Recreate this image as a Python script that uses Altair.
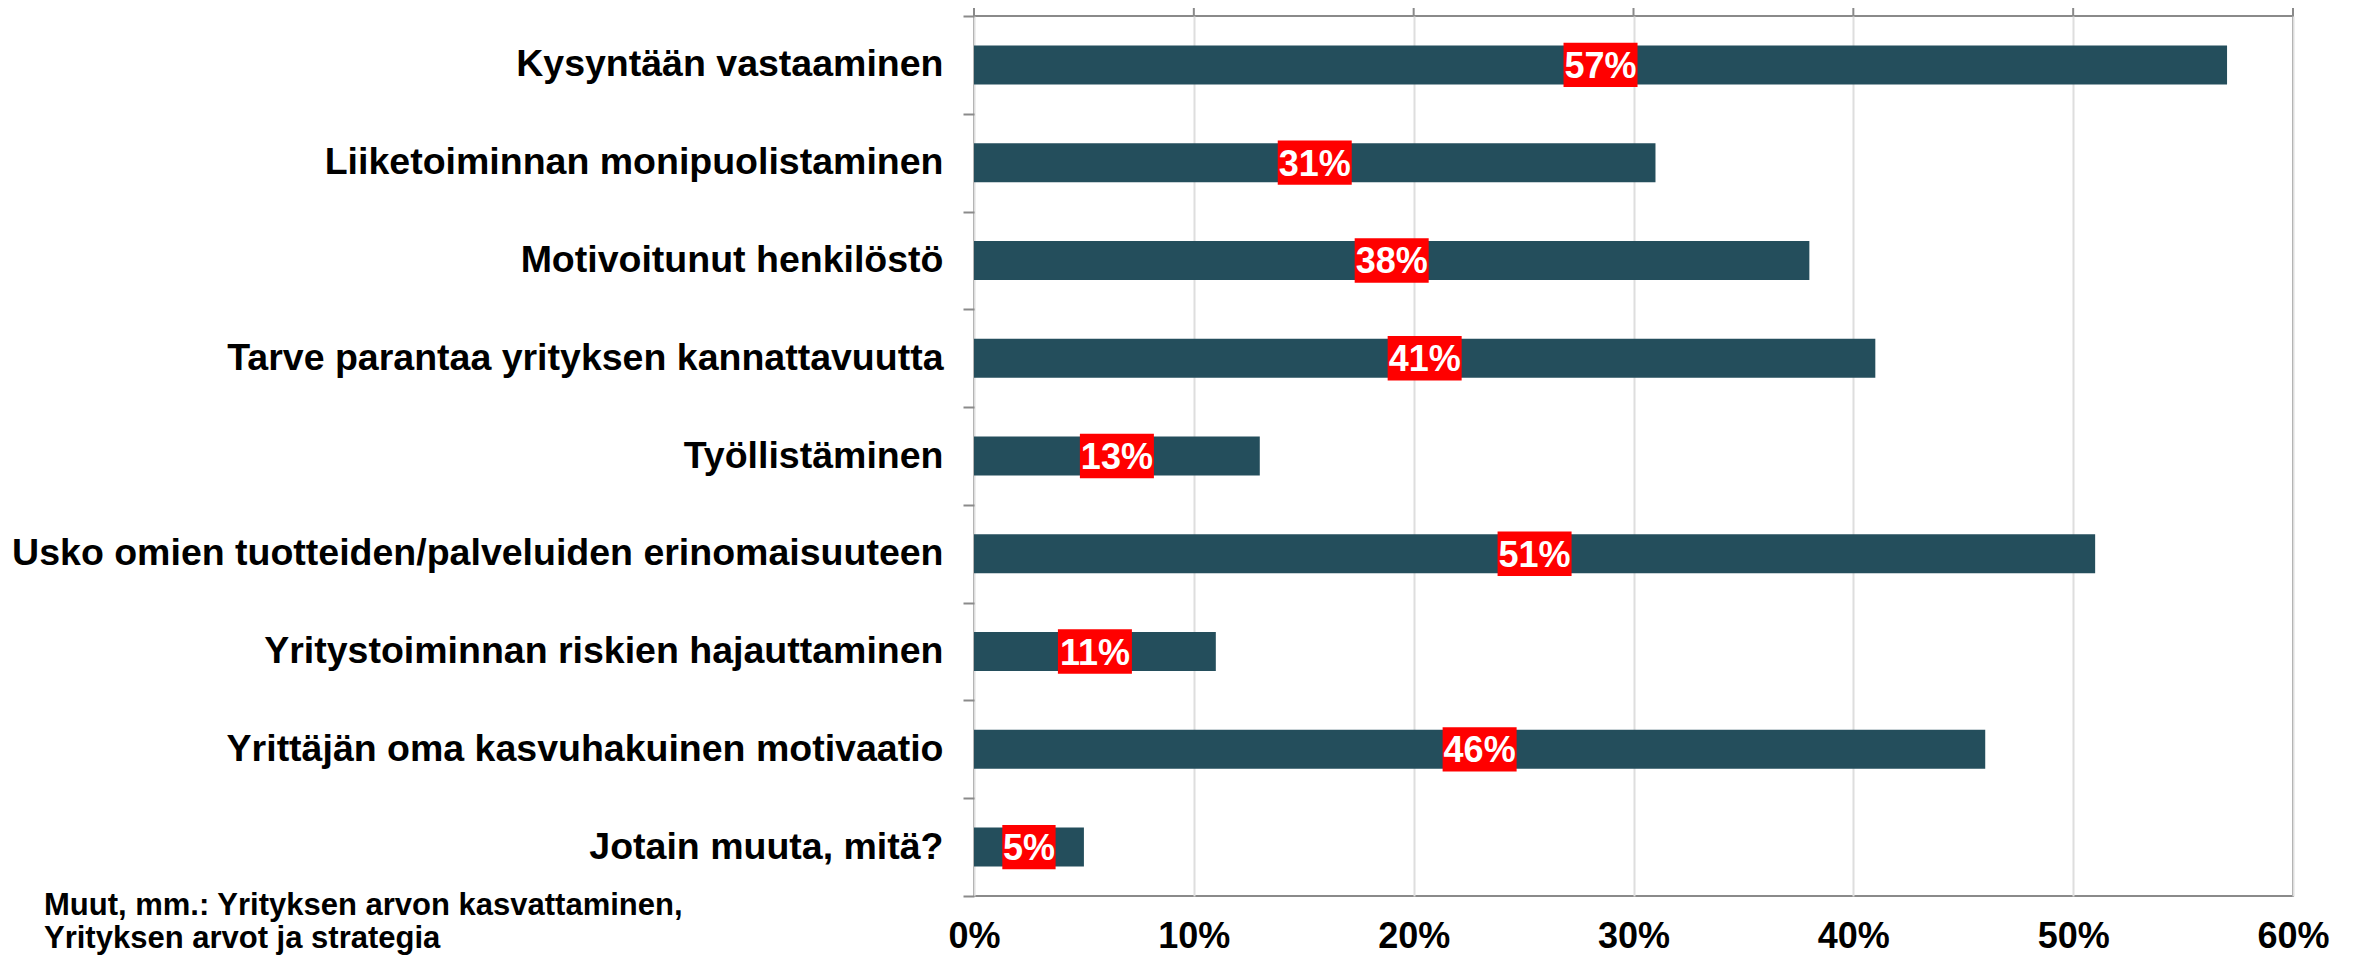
import altair as alt
import pandas as pd

categories = [
    "Kysyntään vastaaminen",
    "Liiketoiminnan monipuolistaminen",
    "Motivoitunut henkilöstö",
    "Tarve parantaa yrityksen kannattavuutta",
    "Työllistäminen",
    "Usko omien tuotteiden/palveluiden erinomaisuuteen",
    "Yritystoiminnan riskien hajauttaminen",
    "Yrittäjän oma kasvuhakuinen motivaatio",
    "Jotain muuta, mitä?",
]
values = [57, 31, 38, 41, 13, 51, 11, 46, 5]
tick_values = [0, 10, 20, 30, 40, 50, 60]
footnote_lines = [
    "Muut, mm.: Yrityksen arvon kasvattaminen,",
    "Yrityksen arvot ja strategia",
]

df = pd.DataFrame({"cat": categories, "val": values})
df["label"] = [f"{v}%" for v in values]
df["digits"] = [str(len(str(v))) for v in values]
ticks_df = pd.DataFrame({"t": tick_values})

FONT = "Liberation Sans, Arial, sans-serif"
BAR = "#244E5C"
FRAME = "#8a8a8a"

x_scale = alt.Scale(domain=[0, 60], nice=False, zero=True)
y_enc = alt.Y(
    "cat:N",
    sort=categories,
    scale=alt.Scale(paddingInner=0, paddingOuter=0),
    axis=alt.Axis(
        title=None,
        labelFont=FONT,
        labelFontSize=37.5,
        labelFontWeight="bold",
        labelColor="black",
        labelPadding=20,
        labelLimit=0,
        tickSize=11,
        tickColor=FRAME,
        tickWidth=2,
        tickBand="extent",
        domain=False,
        grid=False,
    ),
)

base = alt.Chart(df)

bars = base.mark_bar(color=BAR, height=39).encode(
    x=alt.X(
        "val:Q",
        scale=x_scale,
        axis=alt.Axis(
            title=None,
            values=tick_values,
            labelExpr="datum.value + '%'",
            labelFont=FONT,
            labelFontSize=36,
            labelFontWeight="bold",
            labelColor="black",
            labelPadding=23,
            labelFlush=False,
            labelOverlap=False,
            ticks=False,
            tickSize=0,
            domain=False,
            grid=True,
            gridColor="#dedede",
            gridWidth=2,
        ),
    ),
    y=y_enc,
)

boxes = base.transform_calculate(mid="datum.val / 2").mark_point(
    filled=True, opacity=1, color="#FF0000", strokeWidth=0, size=5476
).encode(
    x=alt.X("mid:Q", scale=x_scale),
    y=alt.Y("cat:N", sort=categories),
    shape=alt.Shape(
        "digits:N",
        scale=alt.Scale(
            domain=["1", "2"],
            range=[
                "M-0.72,-0.6H0.72V0.6H-0.72Z",
                "M-1,-0.6H1V0.6H-1Z",
            ],
        ),
        legend=None,
    ),
)

labels = base.transform_calculate(mid="datum.val / 2").mark_text(
    font=FONT, fontSize=36, fontWeight="bold", color="white",
    align="center", baseline="middle", dy=2
).encode(
    x=alt.X("mid:Q", scale=x_scale),
    y=alt.Y("cat:N", sort=categories),
    text="label:N",
)

top_ticks = alt.Chart(ticks_df).mark_rule(color=FRAME, strokeWidth=2).encode(
    x=alt.X("t:Q", scale=x_scale),
    y=alt.value(-11),
    y2=alt.value(0),
)

footnote = alt.Chart(pd.DataFrame({"a": [0]})).mark_text(
    font=FONT, fontSize=31, fontWeight="bold", color="black",
    align="left", baseline="alphabetic", lineHeight=33
).encode(
    x=alt.value(-930),
    y=alt.value(899),
    text=alt.value(footnote_lines),
)

chart = (
    alt.layer(bars, boxes, labels, top_ticks, footnote)
    .properties(
        width=1319,
        height=880,
        autosize=alt.AutoSizeParams(type="none"),
        padding={"left": 966, "top": 8, "right": 57, "bottom": 61},
        background="white",
    )
    .configure_view(stroke=FRAME, strokeWidth=2)
)

chart.save("out.html", embed_options={"renderer": "svg", "actions": False})
